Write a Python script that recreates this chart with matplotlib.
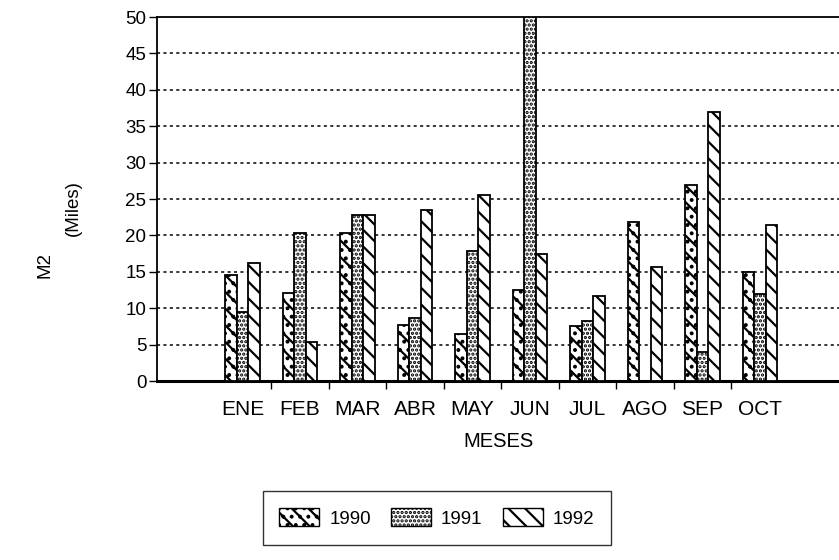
import matplotlib
matplotlib.use("Agg")
import matplotlib.pyplot as plt
from matplotlib.patches import Patch
import numpy as np

plt.rcParams['hatch.linewidth'] = 1.6
plt.rcParams['font.family'] = ['Liberation Sans', 'DejaVu Sans']

months = ["ENE", "FEB", "MAR", "ABR", "MAY", "JUN", "JUL", "AGO", "SEP", "OCT"]
series_names = ["1990", "1991", "1992"]
v1990 = [14.5, 12.1, 20.3, 7.7, 6.4, 12.5, 7.6, 21.9, 26.9, 15.0]
v1991 = [9.5, 20.4, 22.8, 8.7, 17.9, 50.0, 8.3, 0.0, 4.0, 12.0]
v1992 = [16.2, 5.4, 22.8, 23.5, 25.5, 17.5, 11.7, 15.7, 37.0, 21.4]
yticks = [0, 5, 10, 15, 20, 25, 30, 35, 40, 45, 50]

hatches = ["\\\\..", "....", "\\\\"]
values = [v1990, v1991, v1992]

fig = plt.figure(figsize=(8.39, 5.60), dpi=100)
ax = fig.add_axes([0.1877, 0.3196, 0.8123, 0.65])

x = np.arange(len(months))
w = 0.2
for k, (vals, h) in enumerate(zip(values, hatches)):
    ax.bar(x + (k - 1) * w, vals, width=w, facecolor="white", edgecolor="black",
           hatch=h, linewidth=1.3, zorder=3)

ax.set_xlim(-1.478, 10.374)
ax.set_ylim(0, 50)
ax.set_yticks(yticks)
ax.set_yticklabels([str(t) for t in yticks], fontsize=13.5)
ax.set_xticks(x)
ax.set_xticklabels(months, fontsize=15)
ax.set_xticks(np.arange(len(months) - 1) + 0.5, minor=True)
ax.tick_params(axis='x', which='major', length=0, pad=14)
ax.tick_params(axis='x', which='minor', length=6, width=1, direction='out')
ax.tick_params(axis='y', length=6, width=1, direction='out', pad=2)

for t in yticks[1:-1]:
    ax.axhline(t, color="black", linestyle=(0, (2, 2.2)), linewidth=1.1, zorder=1)

ax.spines['right'].set_visible(False)
ax.spines['top'].set_linewidth(1.3)
ax.spines['left'].set_linewidth(1.3)
ax.spines['bottom'].set_linewidth(2.2)

ax.set_xlabel("MESES", fontsize=14.5, labelpad=9)

fig.text(45 / 839, 1 - 265 / 560, "M2", rotation=90, ha="center", va="center", fontsize=13.5)
fig.text(73 / 839, 1 - 208 / 560, "(Miles)", rotation=90, ha="center", va="center", fontsize=13.5)

handles = [Patch(facecolor="white", edgecolor="black", hatch=h, linewidth=1) for h in hatches]
leg = fig.legend(handles, series_names, loc="center", bbox_to_anchor=(437 / 839, 1 - 518 / 560),
                 ncol=3, fontsize=13.5, frameon=True, fancybox=False, handlelength=2.1,
                 handleheight=1.1, columnspacing=1.1, handletextpad=0.55, borderpad=0.9,
                 borderaxespad=0)
leg.get_frame().set_edgecolor("black")
leg.get_frame().set_linewidth(1.0)

fig.savefig("out.png", dpi=100)
